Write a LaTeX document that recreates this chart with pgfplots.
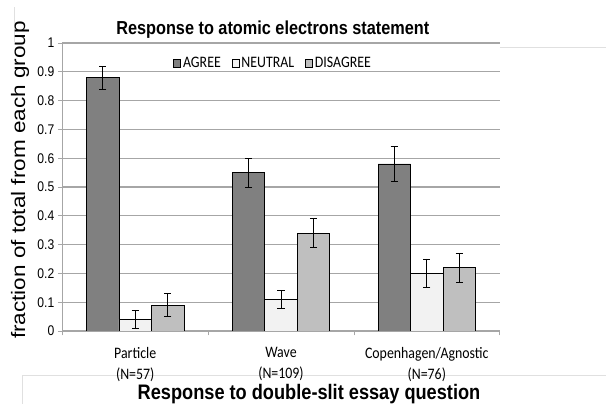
\documentclass[border=0pt]{standalone}
\usepackage{pgfplots}
\pgfplotsset{compat=1.18}
\usepackage{fontspec}
\setmainfont{Liberation Sans}[FakeStretch=0.866]
\newfontfamily\calfont{Carlito}[FakeStretch=0.866]
\newfontfamily\ylabfont{Liberation Sans}
\definecolor{agree}{HTML}{808080}
\definecolor{neutral}{HTML}{F2F2F2}
\definecolor{disagree}{HTML}{BFBFBF}
\definecolor{gridc}{HTML}{A6A6A6}
\begin{document}
\begin{tikzpicture}[x=1pt,y=1pt]
\useasboundingbox (0,0) rectangle (606,404);
\draw[black!12, line width=0.6pt] (14,397) -- (14,362);
\draw[black!12, line width=0.6pt] (500,357) -- (606,357);
\draw[black!12, line width=0.6pt] (22,0) -- (22,29) -- (606,29);
\begin{axis}[
  at={(62.3pt,73pt)}, anchor=south west,
  scale only axis, width=437.4pt, height=288pt,
  xmin=0.5, xmax=3.5, ymin=0, ymax=1,
  axis x line*=bottom, axis y line*=left,
  axis line style={gridc, line width=0.8pt},
  ytick={0,0.1,...,1.01},
  yticklabel style={font=\fontsize{14}{16}\selectfont, /pgf/number format/assume math mode=true, /pgf/number format/fixed},
  ymajorgrids, grid style={gridc, line width=1.3pt},
  major tick length=4.5pt,
  tick style={gridc, line width=0.8pt},
  tick align=outside,
  xtick={0.5,1.5,2.5,3.5}, xticklabels={},
  extra x ticks={1,2,3},
  extra x tick labels={Particle\\(N=57), Wave\\(N=109), Copenhagen/Agnostic\\(N=76)},
  extra x tick style={major tick length=0pt, grid=none,
     xticklabel style={font=\calfont\fontsize{16}{21}\selectfont, align=center, yshift=-12.5pt}},
  ybar, bar width=0.223, 
  enlarge x limits=false,
  legend style={at={(0.482,0.93)}, anchor=center, draw=none, fill=none,
     legend columns=3, font=\calfont\fontsize{16}{18}\selectfont,
     /tikz/every even column/.append style={column sep=9pt}},
  legend image code/.code={\draw[#1, draw=black, line width=0.7pt] (0pt,-4pt) rectangle (7pt,4pt);},
  error bars/y dir=both, error bars/y explicit,
  error bars/error bar style={black, line width=0.9pt},
  error bars/error mark options={black, line width=0.9pt, rotate=90, mark size=3.6pt},
]
\addplot[fill=agree, draw=black, line width=0.8pt, bar shift=-0.223] coordinates {
  (1,0.88) +- (0,0.04)
  (2,0.55) +- (0,0.05)
  (3,0.58) +- (0,0.06)
};
\addplot[fill=neutral, draw=black, line width=0.8pt, bar shift=0] coordinates {
  (1,0.04) +- (0,0.03)
  (2,0.11) +- (0,0.03)
  (3,0.20) +- (0,0.05)
};
\addplot[fill=disagree, draw=black, line width=0.8pt, bar shift=0.223] coordinates {
  (1,0.09) +- (0,0.04)
  (2,0.34) +- (0,0.05)
  (3,0.22) +- (0,0.05)
};
\legend{AGREE, NEUTRAL, DISAGREE}
\end{axis}
\node[font=\bfseries\fontsize{18.8}{20}\selectfont] at (272.8,374) {Response to atomic electrons statement};
\node[font=\bfseries\fontsize{21}{22}\selectfont, inner sep=0pt] at (309,10) {Response to double-slit essay question};
\node[rotate=90] at (20,224) {\scalebox{1}[0.866]{\ylabfont\fontsize{22.5}{24}\selectfont fraction of total from each group}};
\end{tikzpicture}
\end{document}
